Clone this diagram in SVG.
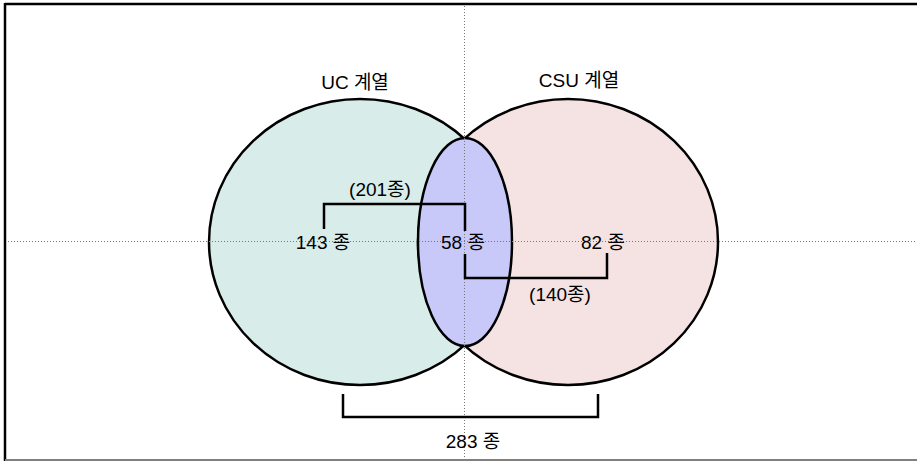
<svg xmlns="http://www.w3.org/2000/svg" width="917" height="461" viewBox="0 0 917 461">
<defs>
<style>
.set{stroke:#000;stroke-width:2.5}
.guide{stroke:#777;stroke-width:1;stroke-dasharray:1 2;fill:none}
.bracket{fill:none;stroke:#000;stroke-width:2.5;stroke-linejoin:miter}
.lbl{font-family:"Liberation Sans","Noto Sans CJK KR",sans-serif;font-size:19px;fill:#000;text-anchor:middle}
</style>
</defs>
<rect x="0" y="0" width="917" height="461" fill="#fff"/>
<g id="frame">
<line x1="5" y1="4" x2="917" y2="4" stroke="#000" stroke-width="2.5"/>
<line x1="5" y1="3" x2="5" y2="461" stroke="#000" stroke-width="2.5"/>
<line x1="5" y1="460" x2="917" y2="460" stroke="#808080" stroke-width="2"/>
</g>
<g id="set-uc">
<ellipse class="set" cx="360" cy="242" rx="151" ry="143" fill="#d8ecea"/>
</g>
<g id="set-csu">
<ellipse class="set" cx="568" cy="242" rx="150" ry="143" fill="#f5e3e3"/>
</g>
<g id="intersection">
<ellipse class="set" cx="465" cy="242" rx="47" ry="104" fill="#c9c9f9"/>
</g>
<g id="guides">
<line class="guide" x1="464.5" y1="6" x2="464.5" y2="459"/>
<line class="guide" x1="8" y1="241.5" x2="917" y2="241.5"/>
</g>
<g id="connectors">
<polyline class="bracket" points="324,229 324,204 465,204 465,231"/>
<polyline class="bracket" points="465,254 465,278 607,278 607,253"/>
<polyline class="bracket" points="343,394 343,417 598,417 598,394"/>
</g>
<g id="labels">
<text class="lbl" x="355" y="89">UC 계열</text>
<text class="lbl" x="579" y="87">CSU 계열</text>
<text class="lbl" x="380" y="196">(201종)</text>
<text class="lbl" x="323" y="249">143 종</text>
<text class="lbl" x="463" y="249">58 종</text>
<text class="lbl" x="603" y="249">82 종</text>
<text class="lbl" x="560" y="301">(140종)</text>
<text class="lbl" x="473" y="448">283 종</text>
</g>
</svg>
